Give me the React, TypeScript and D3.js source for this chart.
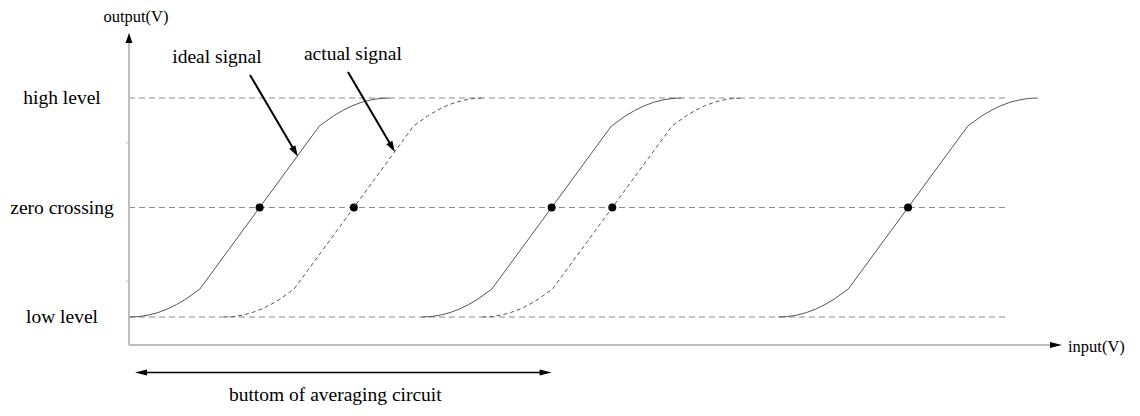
import React from "react";
import * as d3 from "d3";

// ---- data ----
const levelLabels = ["low level", "zero crossing", "high level"];
const levelValues = [0, 0.5, 1];
const levelLineEnd = 94.1;
const idealCenters = [14.0, 45.3, 83.5];
const actualCenters = [24.1, 51.8];
// S-curve shape: offset from the crossing point, output level
const shapeDx = [-13.9, -12.9, -11.9, -10.9, -9.9, -8.9, -7.9, -6.4, 6.4, 7.9, 8.9, 9.9, 10.9, 11.9, 12.9, 13.9];
const shapeY = [0, 0.002, 0.009, 0.02, 0.036, 0.057, 0.082, 0.128, 0.872, 0.918, 0.943, 0.964, 0.98, 0.991, 0.998, 1];
const yAxisTicks = [0.164, 0.795];
const xAxisEnd = 100;
const yAxisTop = 1.297;
const xAxisLevel = -0.128;
const bracketStart = 0.64;
const bracketEnd = 45.3;
const annotations = [
  { label: "ideal signal", from: [12.97, 1.105], to: [18.1, 0.733], text: [9.43, 1.161] },
  { label: "actual signal", from: [23.47, 1.119], to: [28.5, 0.753], text: [24.0, 1.174] },
];

const W = 1140;
const H = 416;
const x = d3.scaleLinear().domain([0, 100]).range([129, 1062]);
const y = d3.scaleLinear().domain([0, 1]).range([317, 98]);

const FONT = "'Liberation Serif', 'Times New Roman', serif";

function curvePoints(c: number): [number, number][] {
  return shapeDx.map((dx, i) => [c + dx, shapeY[i]] as [number, number]);
}

const line = d3
  .line<[number, number]>()
  .x((d) => x(d[0]))
  .y((d) => y(d[1]))
  .curve(d3.curveLinear);

function arrowHead(x1: number, y1: number, x2: number, y2: number, len: number, half: number) {
  const dx = x2 - x1;
  const dy = y2 - y1;
  const L = Math.hypot(dx, dy);
  const ux = dx / L;
  const uy = dy / L;
  const bx = x2 - ux * len;
  const by = y2 - uy * len;
  const px = -uy * half;
  const py = ux * half;
  return `${x2},${y2} ${bx + px},${by + py} ${bx - px},${by - py}`;
}

export default function App() {
  const x0 = x(0);
  const yAx = y(xAxisLevel);
  const yTop = y(yAxisTop);
  const xEnd = x(xAxisEnd);
  const bY = 372.5;
  const bx1 = x(bracketStart);
  const bx2 = x(bracketEnd);

  return (
    <svg
      width={W}
      height={H}
      style={{ position: "absolute", left: 0, top: 0, background: "#fff" }}
      fontFamily={FONT}
    >
      {/* level dashed lines */}
      {levelValues.map((v, i) => (
        <line
          key={"lv" + i}
          x1={x(0)}
          x2={x(levelLineEnd)}
          y1={y(v)}
          y2={y(v)}
          stroke="#8a8a8a"
          strokeWidth={1}
          strokeDasharray="6,4"
        />
      ))}

      {/* axes */}
      <line x1={x0} x2={x0} y1={yAx} y2={yTop + 9} stroke="#bdbdbd" strokeWidth={2} />
      <line x1={x0} x2={xEnd - 10} y1={yAx} y2={yAx} stroke="#bdbdbd" strokeWidth={2} />
      <polygon points={arrowHead(x0, yAx, x0, yTop, 10, 3.5)} fill="#000" />
      <polygon points={arrowHead(x0, yAx, xEnd, yAx, 12, 3)} fill="#000" />
      {yAxisTicks.map((t, i) => (
        <line key={"tk" + i} x1={x0 - 3} x2={x0} y1={y(t)} y2={y(t)} stroke="#bdbdbd" strokeWidth={1} />
      ))}

      {/* signals */}
      {idealCenters.map((c, i) => (
        <path key={"id" + i} d={line(curvePoints(c)) || ""} fill="none" stroke="#555" strokeWidth={1} />
      ))}
      {actualCenters.map((c, i) => (
        <path
          key={"ac" + i}
          d={line(curvePoints(c)) || ""}
          fill="none"
          stroke="#555"
          strokeWidth={1}
          strokeDasharray="4,3"
        />
      ))}

      {/* crossing dots */}
      {[...idealCenters, ...actualCenters].map((c, i) => (
        <circle key={"dot" + i} cx={x(c)} cy={y(0.5)} r={4} fill="#000" />
      ))}

      {/* annotations */}
      {annotations.map((a, i) => {
        const fx = x(a.from[0]);
        const fy = y(a.from[1]);
        const tx = x(a.to[0]);
        const ty = y(a.to[1]);
        return (
          <g key={"an" + i}>
            <line x1={fx} y1={fy} x2={tx - (tx - fx) * 0.1} y2={ty - (ty - fy) * 0.1} stroke="#000" strokeWidth={2} />
            <polygon points={arrowHead(fx, fy, tx, ty, 11, 3.5)} fill="#000" />
            <text x={x(a.text[0])} y={y(a.text[1])} textAnchor="middle" fontSize={19.5} fill="#000">
              {a.label}
            </text>
          </g>
        );
      })}

      {/* level labels */}
      {levelValues.map((v, i) => (
        <text key={"ll" + i} x={62} y={y(v) + 6} textAnchor="middle" fontSize={19.5} fill="#000">
          {levelLabels[i]}
        </text>
      ))}

      {/* axis labels */}
      <text x={136} y={22} textAnchor="middle" fontSize={16.5} fill="#000">
        output(V)
      </text>
      <text x={xEnd + 6} y={yAx + 7} fontSize={16.5} fill="#000">
        input(V)
      </text>

      {/* bracket */}
      <line x1={bx1 + 8} x2={bx2 - 8} y1={bY} y2={bY} stroke="#000" strokeWidth={1.5} />
      <polygon points={arrowHead(bx2, bY, bx1, bY, 12, 3)} fill="#000" />
      <polygon points={arrowHead(bx1, bY, bx2, bY, 12, 3)} fill="#000" />
      <text x={(bx1 + bx2) / 2 - 8} y={401} textAnchor="middle" fontSize={19.5} fill="#000">
        buttom of averaging circuit
      </text>
    </svg>
  );
}
